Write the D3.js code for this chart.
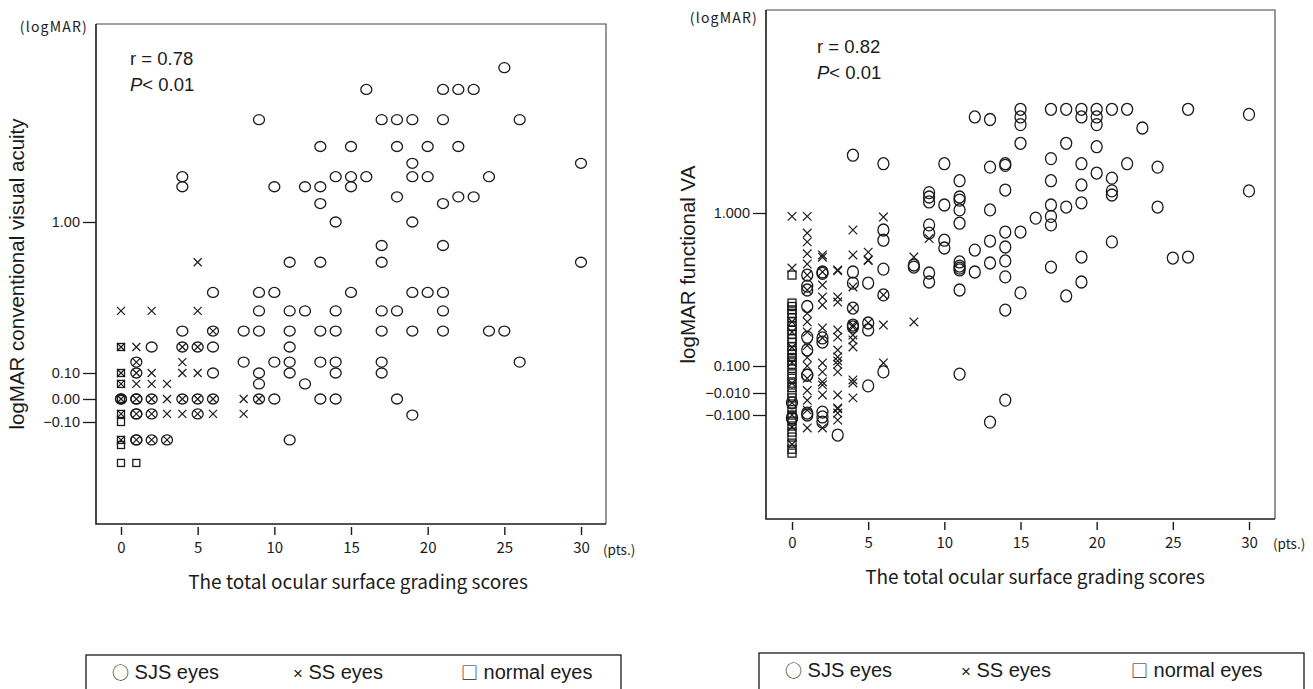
<!DOCTYPE html>
<html><head><meta charset="utf-8">
<script src="https://cdn.jsdelivr.net/npm/d3@7"></script>
<style>body{margin:0;background:#fff}svg{display:block}</style>
</head><body>
<svg id="c" width="1313" height="689"></svg>
<script>
// ---------- shared axis / legend values ----------
const xTicks = [0, 5, 10, 15, 20, 25, 30];
const convYTicks = [-0.10, 0.00, 0.10, 1.00];
const funcYTicks = [-0.100, -0.010, 0.100, 1.000];
const legendSymbols = ["○", "×", "□"];
const legendLabels = ["SJS eyes", "SS eyes", "normal eyes"];

// ---------- left panel: conventional VA, rows of [logMAR, [scores]] ----------
const convSJSRows = [
  [1.92, [25]], [1.79, [16, 21, 22, 23]], [1.61, [9, 17, 18, 19, 21, 26]],
  [1.45, [13, 15, 18, 20, 22]], [1.35, [19, 30]], [1.27, [4, 14, 15, 16, 19, 20, 24]],
  [1.21, [4, 10, 12, 13, 15]], [1.15, [18, 22, 23]], [1.11, [13, 21]], [1.00, [14, 19]],
  [0.86, [17, 21]], [0.76, [11, 13, 17, 30]], [0.58, [6, 9, 10, 15, 19, 20, 21]],
  [0.47, [9, 11, 12, 14, 17, 18, 21]], [0.35, [4, 6, 8, 9, 11, 13, 14, 17, 19, 21, 24, 25]],
  [0.255, [2, 4, 5, 6, 11]], [0.165, [1, 8, 10, 11, 13, 14, 17, 26]],
  [0.10, [1, 6, 9, 11, 14, 17]], [0.058, [9, 12]],
  [0.00, [0, 0, 1, 1, 2, 4, 5, 6, 9, 10, 13, 14, 18]],
  [-0.065, [1, 1, 2, 5]], [-0.07, [19]], [-0.178, [1, 1, 2, 3, 11]]
];
const convSSRows = [
  [0.76, [5]], [0.47, [0, 2, 5]], [0.35, [6]], [0.255, [0, 1, 4, 5]],
  [0.165, [1, 4]], [0.10, [0, 1, 2, 4, 5]], [0.058, [0, 1, 2, 3]],
  [0.00, [0, 1, 2, 3, 4, 5, 6, 8, 9]], [-0.065, [0, 1, 2, 3, 4, 5, 6, 8]],
  [-0.178, [0, 1, 2, 3]]
];
const convNormalRows = [
  [0.255, [0]], [0.10, [0]], [0.058, [0]], [0.00, [0]], [-0.065, [0]],
  [-0.10, [0]], [-0.178, [0]], [-0.20, [0]], [-0.278, [0, 1]]
];

// ---------- right panel: functional VA, columns of [score, [logMAR]] ----------
const funcSJSCols = [
  [0, [-0.112, -0.112, -0.05]],
  [1, [0.635, 0.57, 0.547, 0.45, 0.27, 0.194, 0.063, 0.063, -0.092, -0.10]],
  [2, [0.653, 0.645, 0.265, 0.241, -0.088, -0.108, -0.129]],
  [3, [-0.182]],
  [4, [1.34, 0.653, 0.588, 0.441, 0.341, 0.33]],
  [5, [0.588, 0.353, 0.312, 0.019]],
  [6, [1.29, 0.90, 0.84, 0.67, 0.518, 0.076]],
  [8, [0.694, 0.682]],
  [9, [1.12, 1.094, 1.065, 0.93, 0.882, 0.647, 0.594]],
  [10, [1.29, 1.047, 0.84, 0.794]],
  [11, [1.19, 1.094, 1.076, 1.018, 0.94, 0.712, 0.688, 0.676, 0.665, 0.547, 0.067]],
  [12, [1.565, 0.782, 0.653]],
  [13, [1.55, 1.27, 1.018, 0.835, 0.706, -0.129]],
  [14, [1.29, 1.28, 1.135, 0.888, 0.80, 0.718, 0.624, 0.429, -0.039]],
  [15, [1.61, 1.565, 1.52, 1.41, 0.888, 0.53]],
  [16, [0.97]],
  [17, [1.61, 1.32, 1.19, 1.047, 0.98, 0.93, 0.682]],
  [18, [1.61, 1.41, 1.035, 0.512]],
  [19, [1.61, 1.565, 1.29, 1.165, 1.06, 0.741, 0.594]],
  [20, [1.61, 1.565, 1.52, 1.39, 1.235]],
  [21, [1.61, 1.205, 1.13, 1.106, 0.83]],
  [22, [1.61, 1.29]], [23, [1.50]], [24, [1.27, 1.035]], [25, [0.735]],
  [26, [1.61, 0.741]], [30, [1.58, 1.13]]
];
const funcSSCols = [
  [0, [0.98, 0.676, 0.36, 0.30, 0.21, 0.12, 0.03, -0.05, -0.10, -0.15, -0.22]],
  [1, [0.98, 0.882, 0.83, 0.76, 0.70, 0.635, 0.547, 0.41, 0.36, 0.30, 0.22, 0.15, 0.10, 0.05, 0.0, -0.04, -0.08, -0.153]],
  [2, [0.753, 0.74, 0.653, 0.576, 0.506, 0.459, 0.324, 0.265, 0.118, 0.076, 0.035, 0.023, -0.018, -0.153]],
  [3, [0.665, 0.66, 0.506, 0.476, 0.312, 0.27, 0.194, 0.153, 0.13, 0.11, 0.076, -0.018, -0.071, -0.075, -0.092, -0.121]],
  [4, [0.90, 0.753, 0.565, 0.441, 0.341, 0.329, 0.282, 0.253, 0.212, 0.043, 0.031, -0.03]],
  [5, [0.77, 0.724, 0.72, 0.353]],
  [6, [0.976, 0.518, 0.341, 0.118]],
  [8, [0.741, 0.359]],
  [9, [0.85]]
];
const funcNormalCols = [
  [0, [0.635, 0.47, 0.45, 0.43, 0.41, 0.385, 0.36, 0.335, 0.31, 0.285, 0.26, 0.24, 0.215, 0.19, 0.17, 0.15,
       0.13, 0.11, 0.09, 0.068, 0.05, 0.03, 0.012, -0.01, -0.03, -0.055, -0.078, -0.10, -0.125, -0.145,
       -0.17, -0.19, -0.215, -0.24, -0.256]]
];

const fromRows = rows => rows.flatMap(([v, ss]) => ss.map(s => [s, v]));
const fromCols = cols => cols.flatMap(([s, vs]) => vs.map(v => [s, v]));

const panels = [
  {
    box: [96, 24, 606, 524], xr: [121, 581], yr: [422, 399, 373, 222], yTicks: convYTicks, fmt: ".2f",
    sjs: fromRows(convSJSRows), ss: fromRows(convSSRows), nm: fromRows(convNormalRows),
    ylabel: "logMAR conventional visual acuity", ylabX: 24, r: "r = 0.78", txtX: 130, rY: 65, pY: 91,
    unitX: 88, unitY: 32, titleX: 358, titleY: 589, ptsX: 603, ptsY: 555, circ: [5.5, 5], xs: 4, sq: 3.5,
    legend: [86, 655, 621, 700], legX: [112, 293, 461], legY: 679
  },
  {
    box: [766, 10, 1275, 519], xr: [792, 1249], yr: [415, 393, 366, 213], yTicks: funcYTicks, fmt: ".3f",
    sjs: fromCols(funcSJSCols), ss: fromCols(funcSSCols), nm: fromCols(funcNormalCols),
    ylabel: "logMAR functional VA", ylabX: 695, r: "r = 0.82", txtX: 817, rY: 53, pY: 79,
    unitX: 758, unitY: 23, titleX: 1035, titleY: 584, ptsX: 1273, ptsY: 549, circ: [5.5, 6], xs: 4.3, sq: 4,
    legend: [759, 653, 1304, 700], legX: [785, 961, 1131], legY: 677
  }
];

const svg = d3.select("#c");
const INK = "#1b1b1b";
const SANS = "'Liberation Sans', Arial, sans-serif";
const JP = "'Noto Sans CJK JP', 'Liberation Sans', sans-serif";

panels.forEach(p => {
  const [x0, y0, x1, y1] = p.box;
  const x = d3.scaleLinear().domain([0, 30]).range(p.xr);
  const y = d3.scaleLinear().domain(p.yTicks).range(p.yr);
  const g = svg.append("g");

  // frame: thin top/right, heavier left/bottom
  g.append("path").attr("d", `M${x0},${y0}H${x1}V${y1}`).attr("fill", "none")
    .attr("stroke", "#444").attr("stroke-width", 1.1);
  g.append("path").attr("d", `M${x0},${y0}V${y1}H${x1}`).attr("fill", "none")
    .attr("stroke", INK).attr("stroke-width", 1.6);

  // x axis
  const gx = g.append("g").attr("transform", `translate(0,${y1 + 3})`)
    .call(d3.axisBottom(x).tickValues(xTicks).tickSize(8).tickFormat(d3.format("d")));
  gx.select(".domain").remove();
  gx.selectAll("line").attr("stroke", INK).attr("stroke-width", 1.4);
  gx.selectAll("text").attr("y", 26).attr("dy", 0).attr("fill", INK)
    .style("font-family", JP).style("font-size", "15px");

  // y axis
  const gy = g.append("g").attr("transform", `translate(${x0},0)`)
    .call(d3.axisLeft(y).tickValues(p.yTicks).tickSize(13).tickPadding(3).tickFormat(d3.format(p.fmt)));
  gy.select(".domain").remove();
  gy.selectAll("line").attr("stroke", INK).attr("stroke-width", 1.3);
  gy.selectAll("text").attr("fill", INK).style("font-family", SANS).style("font-size", "14.5px");

  // markers
  const m = g.append("g").attr("fill", "none").attr("stroke", INK);
  m.selectAll("ellipse").data(p.sjs).join("ellipse")
    .attr("cx", d => x(d[0])).attr("cy", d => y(d[1]))
    .attr("rx", p.circ[0]).attr("ry", p.circ[1]).attr("stroke-width", 1.3);
  const s = p.xs;
  m.selectAll("path.x").data(p.ss).join("path").attr("class", "x")
    .attr("d", d => { const cx = x(d[0]), cy = y(d[1]);
      return `M${cx - s},${cy - s}L${cx + s},${cy + s}M${cx - s},${cy + s}L${cx + s},${cy - s}`; })
    .attr("stroke-width", 1.2);
  m.selectAll("rect").data(p.nm).join("rect")
    .attr("x", d => x(d[0]) - p.sq).attr("y", d => y(d[1]) - p.sq)
    .attr("width", p.sq * 2).attr("height", p.sq * 2).attr("stroke-width", 1.3);

  // texts
  g.append("text").attr("x", p.unitX).attr("y", p.unitY).attr("text-anchor", "end")
    .style("font-family", JP).style("font-size", "14px").style("letter-spacing", "1.2px")
    .attr("fill", INK).text("(logMAR)");
  g.append("text").attr("x", p.txtX).attr("y", p.rY).style("font-family", SANS)
    .style("font-size", "18.5px").attr("fill", INK).text(p.r);
  const pt = g.append("text").attr("x", p.txtX).attr("y", p.pY).style("font-family", SANS)
    .style("font-size", "18.5px").attr("fill", INK);
  pt.append("tspan").style("font-style", "italic").text("P");
  pt.append("tspan").text("< 0.01");
  g.append("text").attr("transform", `translate(${p.ylabX},${(y0 + y1) / 2}) rotate(-90)`)
    .attr("text-anchor", "middle").style("font-family", SANS).style("font-size", "20.5px")
    .attr("fill", INK).text(p.ylabel);
  g.append("text").attr("x", p.titleX).attr("y", p.titleY).attr("text-anchor", "middle")
    .style("font-family", JP).style("font-size", "19px").attr("fill", INK)
    .text("The total ocular surface grading scores");
  g.append("text").attr("x", p.ptsX).attr("y", p.ptsY).style("font-family", JP)
    .style("font-size", "13.5px").attr("fill", INK).text("(pts.)");

  // legend box
  const [lx0, ly0, lx1, ly1] = p.legend;
  g.append("rect").attr("x", lx0).attr("y", ly0).attr("width", lx1 - lx0).attr("height", ly1 - ly0)
    .attr("fill", "none").attr("stroke", INK).attr("stroke-width", 1.3);
  const lt = g.selectAll("text.leg").data(legendLabels).join("text").attr("class", "leg")
    .attr("x", (d, i) => p.legX[i]).attr("y", p.legY)
    .style("font-family", SANS).style("font-size", "20px").attr("fill", INK);
  lt.append("tspan").style("font-family", (d, i) => i === 1 ? SANS : JP)
    .style("font-size", (d, i) => i === 1 ? "17px" : "17px")
    .text((d, i) => legendSymbols[i]);
  lt.append("tspan").text(d => " " + d);
});
</script>
</body></html>
